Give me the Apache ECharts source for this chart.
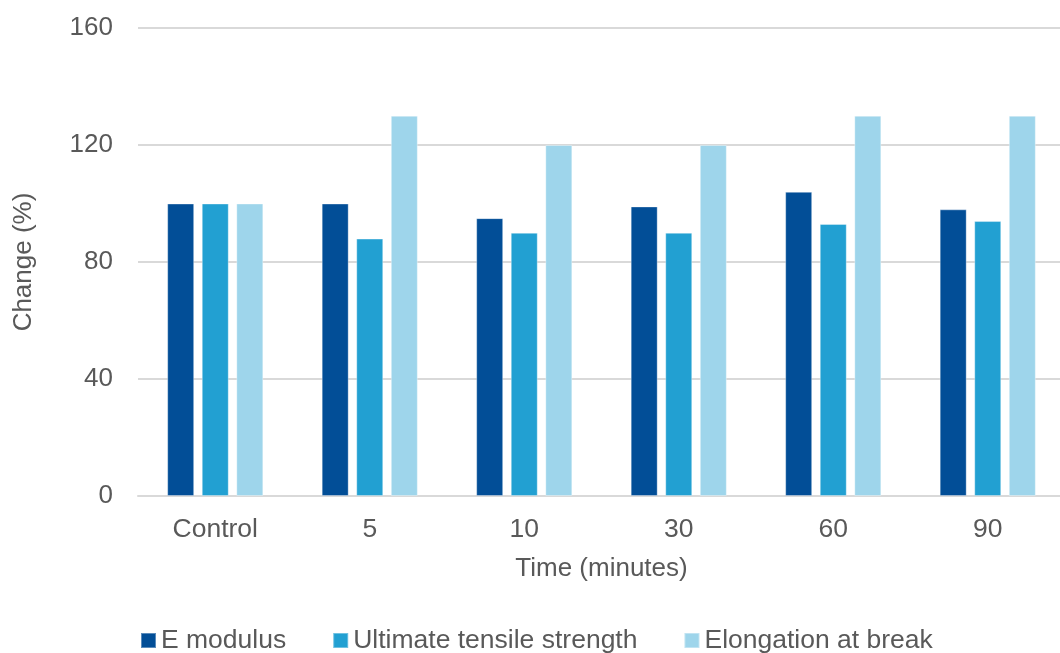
<!DOCTYPE html>
<html>
<head>
<meta charset="utf-8">
<script src="https://cdn.jsdelivr.net/npm/echarts@6/dist/echarts.min.js"></script>
<style>
html,body{margin:0;padding:0;background:#fff;}
#chart{width:1060px;height:653px;}
</style>
</head>
<body>
<div id="chart"></div>
<script>
const categories = ['Control', '5', '10', '30', '60', '90'];
const eModulus = [100, 100, 95, 99, 104, 98];
const tensileStrength = [100, 88, 90, 90, 93, 94];
const elongation = [100, 130, 120, 120, 130, 130];
const seriesNames = ['E modulus', 'Ultimate tensile strength', 'Elongation at break'];
const colors = ['#024e97', '#22a0d2', '#9ed5eb'];

const font = 'Liberation Sans, Arial, Helvetica, sans-serif';
const textColor = '#595959';

const chart = echarts.init(document.getElementById('chart'), null, {renderer: 'canvas'});
const mk = (name, data, i) => ({
  name: name,
  type: 'bar',
  data: data,
  barWidth: 27,
  barGap: '28%',
  itemStyle: {color: colors[i], borderColor: 'rgba(255,255,255,0.35)', borderWidth: 1},
  emphasis: {disabled: true}
});
chart.setOption({
  animation: false,
  color: colors,
  textStyle: {fontFamily: font},
  grid: {left: 138, width: 927, top: 28, bottom: 157, containLabel: false, outerBoundsMode: 'none'},
  legend: {
    data: seriesNames,
    left: 140,
    top: 627,
    padding: 0,
    icon: 'rect',
    itemWidth: 15,
    itemHeight: 15,
    itemGap: 46,
    textStyle: {fontSize: 26.5, color: textColor, fontFamily: font}
  },
  xAxis: {
    type: 'category',
    data: categories,
    name: 'Time (minutes)',
    nameLocation: 'middle',
    nameGap: 60,
    nameTextStyle: {fontSize: 26, color: textColor, fontFamily: font},
    axisLine: {lineStyle: {color: '#d9d9d9', width: 2}},
    axisTick: {show: false},
    axisLabel: {fontSize: 26.5, color: textColor, margin: 20, fontFamily: font}
  },
  yAxis: {
    type: 'value',
    min: 0,
    max: 160,
    interval: 40,
    name: 'Change (%)',
    nameLocation: 'middle',
    nameGap: 101,
    nameTextStyle: {fontSize: 26, color: textColor, fontFamily: font},
    axisLine: {show: false},
    axisTick: {show: false},
    axisLabel: {fontSize: 26, color: textColor, margin: 25, fontFamily: font},
    splitLine: {lineStyle: {color: '#d9d9d9', width: 2}}
  },
  series: [
    mk(seriesNames[0], eModulus, 0),
    mk(seriesNames[1], tensileStrength, 1),
    mk(seriesNames[2], elongation, 2)
  ]
});
</script>
</body>
</html>
